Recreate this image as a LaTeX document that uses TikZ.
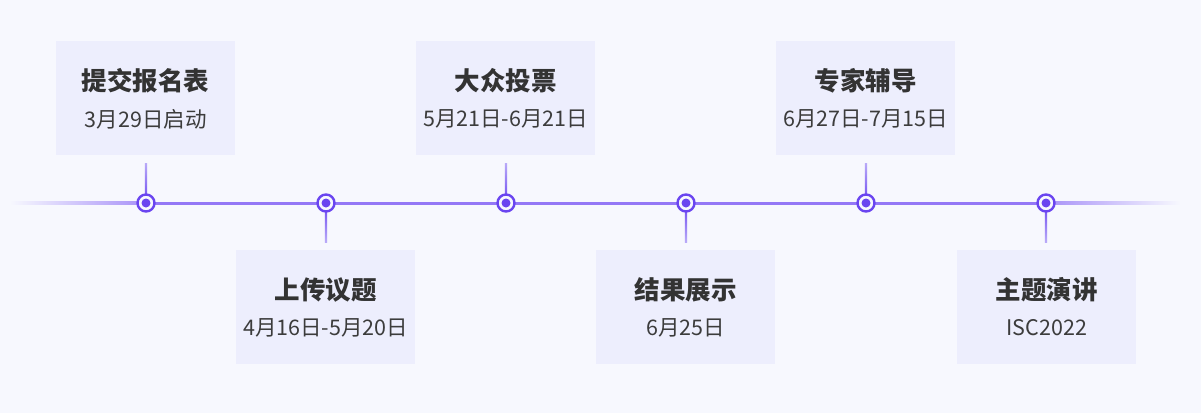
\documentclass[tikz,border=0pt]{standalone}
\usepackage{fontspec}
\setmainfont{Noto Sans CJK SC}
\begin{document}
\begin{tikzpicture}[x=1pt,y=-1pt,
  box/.style={fill=boxfill,minimum width=179pt,minimum height=114pt,anchor=north west,inner sep=0pt},
  ttl/.style={font=\bfseries\fontsize{25.5}{30}\selectfont,text=txt},
  sub/.style={font=\fontsize{21.5}{25}\selectfont,text=txt2},
  ring/.style={circle,draw=accent,line width=2.4pt,fill=bg,minimum size=17pt,inner sep=0pt},
  core/.style={circle,fill=accent,minimum size=9pt,inner sep=0pt}]
\definecolor{bg}{HTML}{F7F8FE}
\definecolor{boxfill}{HTML}{EDEEFD}
\definecolor{accent}{HTML}{6A45F0}
\definecolor{line}{HTML}{9478F6}
\definecolor{txt}{HTML}{333333}
\definecolor{txt2}{HTML}{3C3C3C}
\fill[bg] (0,0) rectangle (1201,413);
\useasboundingbox (0,0) rectangle (1201,413);
% timeline
\shade[left color=bg,right color=line!80!bg] (10,201.5) rectangle (146,204.5);
\fill[line] (146,201.5) rectangle (1046,204.5);
\shade[left color=line!80!bg,right color=bg] (1046,201.5) rectangle (1180,204.5);
% boxes
\node[box] (b1) at (56,41) {};
\node[box] (b2) at (236,250) {};
\node[box] (b3) at (416,41) {};
\node[box] (b4) at (596,250) {};
\node[box] (b5) at (776,41) {};
\node[box] (b6) at (957,250) {};
% texts
\foreach \b/\t/\s in {b1/提交报名表/3月29日启动,b2/上传议题/4月16日-5月20日,b3/大众投票/5月21日-6月21日,b4/结果展示/6月25日,b5/专家辅导/6月27日-7月15日,b6/主题演讲/ISC2022}{
  \node[ttl] (\b t) at ([yshift=-40pt]\b.north) {\t};
  \node[sub] (\b s) at ([yshift=-78pt]\b.north) {\s};
}
% stems and dots
\foreach \b/\x/\up in {b1/146/1,b2/326/0,b3/506/1,b4/686/0,b5/866/1,b6/1046/0}{
  \coordinate (\b d) at (\x,203);
  \ifnum\up=1
    \shade[top color=boxfill!60!accent,bottom color=accent] (\x-1.2,163) rectangle (\x+1.2,203);
  \else
    \shade[top color=accent,bottom color=boxfill!60!accent] (\x-1.2,203) rectangle (\x+1.2,242);
  \fi
  \node[ring] (\b r) at (\b d) {};
  \node[core] (\b c) at (\b d) {};
}
\end{tikzpicture}
\end{document}
